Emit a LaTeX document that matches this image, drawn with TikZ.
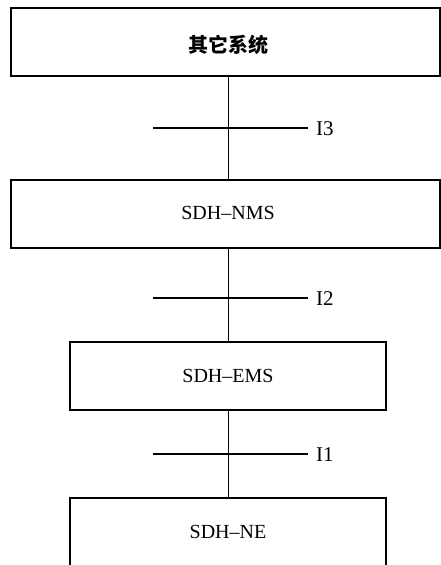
\documentclass[tikz,border=0pt]{standalone}
\usepackage{fontspec}
\setmainfont{Liberation Serif}
\newfontfamily\cjk{Noto Sans CJK SC}
\begin{document}
\begin{tikzpicture}[x=1pt,y=-1pt,
  box/.style={draw,line width=1.3pt,inner sep=0pt,font=\fontsize{20}{24}\selectfont},
  bar/.style={line width=2.2pt},
  link/.style={line width=1pt},
  lbl/.style={anchor=west,inner sep=0pt,font=\fontsize{21}{24}\selectfont}]
\useasboundingbox (0,0) rectangle (441,565);
\clip (0,0) rectangle (441,565);
\node[box,minimum width=429pt,minimum height=68pt] (top) at (225.5,42) {};
\node[font=\fontsize{20}{24}\selectfont\cjk\bfseries] (toptxt) at (228,45) {其它系统};
\node[box,minimum width=429pt,minimum height=68pt] (nms) at (225.5,214) {};
\node[font=\fontsize{20}{24}\selectfont] (nmstxt) at (228,213) {SDH–NMS};
\node[box,minimum width=316pt,minimum height=68pt] (ems) at (228,376) {SDH–EMS};
\node[box,minimum width=316pt,minimum height=90pt] (ne) at (228,543) {};
\node[font=\fontsize{20}{24}\selectfont] (netxt) at (228,532) {SDH–NE};
\coordinate (vx) at (228,0);
\draw[link] (top.south -| vx) -- (nms.north -| vx);
\draw[link] (nms.south -| vx) -- (ems.north -| vx);
\draw[link] (ems.south -| vx) -- (ne.north -| vx);
\node[lbl] (i3) at (316,129) {I3};
\node[lbl] (i2) at (316,299) {I2};
\node[lbl] (i1) at (316,455) {I1};
\coordinate (b3) at (153,128);
\coordinate (b2) at (153,298);
\coordinate (b1) at (153,454);
\draw[bar] (b3) -- (b3 -| 308,0);
\draw[bar] (b2) -- (b2 -| 308,0);
\draw[bar] (b1) -- (b1 -| 308,0);
\end{tikzpicture}
\end{document}
